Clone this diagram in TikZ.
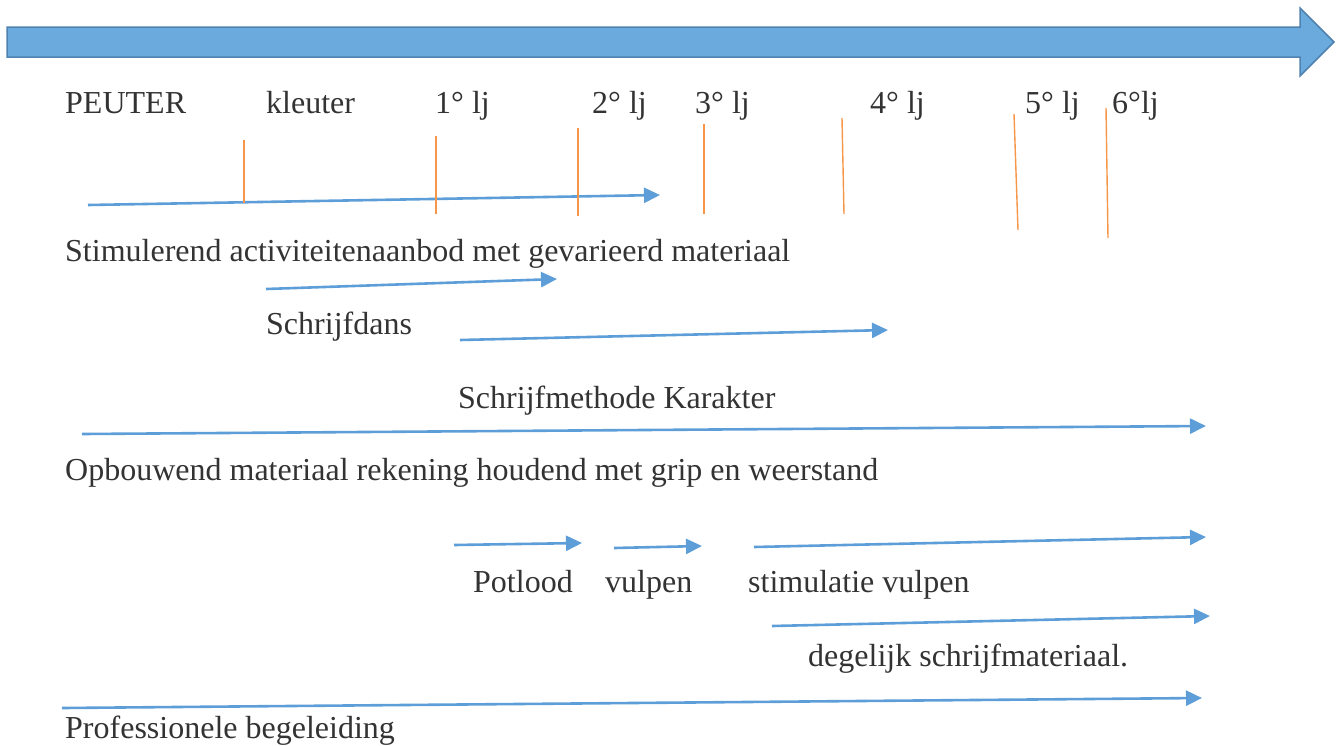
\documentclass[tikz,border=0pt]{standalone}
\usepackage{fontspec}
\setmainfont{Liberation Serif}
\usetikzlibrary{positioning,arrows.meta}
\definecolor{timeblue}{RGB}{106,170,220}
\definecolor{timeedge}{RGB}{80,130,175}
\definecolor{spanblue}{RGB}{94,158,216}
\definecolor{markorange}{RGB}{246,150,72}
\definecolor{labelgray}{RGB}{51,51,51}

\begin{document}
\begin{tikzpicture}[
      x=1pt, y=-1pt,
      lab/.style={anchor=base west, inner sep=0pt, text=labelgray, font=\fontsize{32}{38}\selectfont},
      span/.style={-{Triangle[length=16pt,width=15pt]}, draw=spanblue, line width=2.6pt},
      tick/.style={draw=markorange, line width=1.4pt}
    ]
    \useasboundingbox (0,0) rectangle (1341,745);

    % timeline
    \draw[fill=timeblue, draw=timeedge, line width=1.5pt] (7,27) -- (1300,27) -- (1300,8) -- (1334,42) -- (1300,76) -- (1300,57) -- (7,57) -- cycle;

    % years
    \node[lab] (peuter) at (65,113) {PEUTER};
    \node[lab] (kleuter) at (266,113) {kleuter};
    \node[lab] (lj1) at (435,113) {1° lj};
    \node[lab] (lj2) at (592,113) {2° lj};
    \node[lab] (lj3) at (695,113) {3° lj};
    \node[lab] (lj4) at (870,113) {4° lj};
    \node[lab] (lj5) at (1025,113) {5° lj};
    \node[lab] (lj6) at (1112,113) {6°lj};

    % spans
    \coordinate (stim0) at (88,205);   \coordinate (stim1) at (660,195);
    \coordinate (dans0) at (266,289);  \coordinate (dans1) at (557,279);
    \coordinate (kar0) at (460,340);   \coordinate (kar1) at (888,330);
    \coordinate (grip0) at (82,434);   \coordinate (grip1) at (1206,426);
    \coordinate (pot0) at (454,545);   \coordinate (pot1) at (582,543);
    \coordinate (vul0) at (614,548);   \coordinate (vul1) at (702,546);
    \coordinate (svul0) at (754,547);  \coordinate (svul1) at (1206,537);
    \coordinate (mat0) at (772,626);   \coordinate (mat1) at (1210,616);
    \coordinate (beg0) at (62,708);    \coordinate (beg1) at (1202,698);

    \draw[span] (stim0) -- (stim1);
    \draw[span] (dans0) -- (dans1);
    \draw[span] (kar0) -- (kar1);
    \draw[span] (grip0) -- (grip1);
    \draw[span] (pot0) -- (pot1);
    \draw[span] (vul0) -- (vul1);
    \draw[span] (svul0) -- (svul1);
    \draw[span] (mat0) -- (mat1);
    \draw[span] (beg0) -- (beg1);

    % year borders
    \coordinate (b1t) at (244,140);   \coordinate (b1b) at (244,203);
    \coordinate (b2t) at (436,136);   \coordinate (b2b) at (436,214);
    \coordinate (b3t) at (578,128);   \coordinate (b3b) at (578,216);
    \coordinate (b4t) at (704,124);   \coordinate (b4b) at (704,214);
    \coordinate (b5t) at (842,118);   \coordinate (b5b) at (844,214);
    \coordinate (b6t) at (1014,114);  \coordinate (b6b) at (1018,230);
    \coordinate (b7t) at (1106,108);  \coordinate (b7b) at (1108,238);

    \draw[tick] (b1t) -- (b1b);
    \draw[tick] (b2t) -- (b2b);
    \draw[tick] (b3t) -- (b3b);
    \draw[tick] (b4t) -- (b4b);
    \draw[tick] (b5t) -- (b5b);
    \draw[tick] (b6t) -- (b6b);
    \draw[tick] (b7t) -- (b7b);

    % activities
    \node[lab] (stim) at (65,261) {Stimulerend activiteitenaanbod met gevarieerd materiaal};
    \node[lab] (dans) at (266,334) {Schrijfdans};
    \node[lab] (kar) at (458,408) {Schrijfmethode Karakter};
    \node[lab] (grip) at (65,480) {Opbouwend materiaal rekening houdend met grip en weerstand};
    \node[lab] (pot) at (473,592) {Potlood};
    \node[lab] (vul) at (605,592) {vulpen};
    \node[lab] (svul) at (748,592) {stimulatie vulpen};
    \node[lab] (mat) at (808,666) {degelijk schrijfmateriaal.};
    \node[lab] (beg) at (65,738) {Professionele begeleiding};
\end{tikzpicture}
\end{document}
